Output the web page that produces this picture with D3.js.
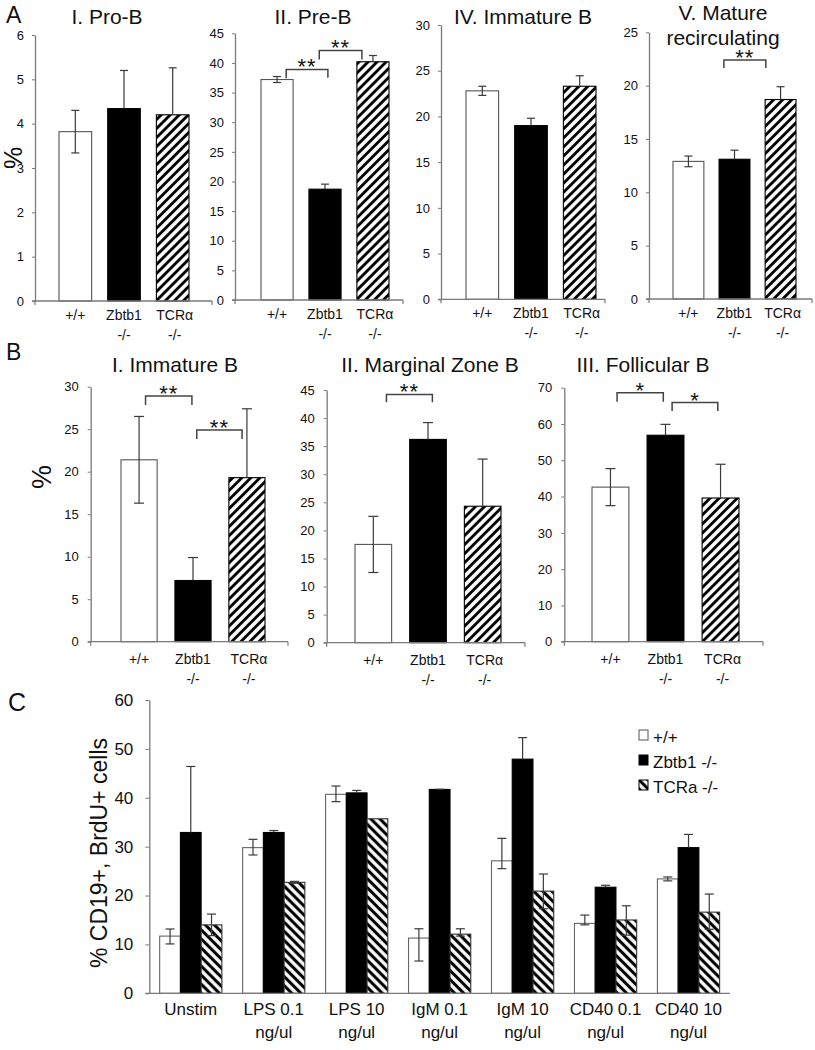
<!DOCTYPE html>
<html><head><meta charset="utf-8">
<script src="https://cdn.jsdelivr.net/npm/d3@7"></script>
<style>
body{margin:0;background:#fff}
svg{display:block}
text{font-family:"Liberation Sans",Arial,sans-serif;fill:#111}
</style>
</head><body>
<svg id="chart" width="815" height="1050"></svg>
<script>
// ---------------- DATA ----------------
const genotypes = ["+/+", "Zbtb1 -/-", "TCRα -/-"];
const genotypeLines = [["+/+"], ["Zbtb1", "-/-"], ["TCRα", "-/-"]];

// Panel A (bone marrow)
const aTitles = [["I. Pro-B"], ["II. Pre-B"], ["IV. Immature B"], ["V. Mature", "recirculating"]];
const aProB = [3.82, 4.34, 4.20];
const aProBErr = [0.48, 0.86, 1.06];
const aPreB = [37.2, 18.7, 40.2];
const aPreBErr = [0.5, 0.85, 1.05];
const aImmB = [22.8, 19.0, 23.3];
const aImmBErr = [0.5, 0.8, 1.15];
const aMatB = [12.9, 13.1, 18.7];
const aMatBErr = [0.5, 0.85, 1.2];
const aYMax = [6, 45, 30, 25];
const aTickStep = [1, 5, 5, 5];
// brackets: [fromIndex, toIndex, level, leftLegEnd, rightLegEnd, label]
const aPreBBrackets = [[0.19, 1.06, 38.9, 37.4, 37.5, "**"], [0.88, 1.77, 42.1, 40.6, 40.6, "**"]];
const aMatBBrackets = [[0.77, 1.68, 22.4, 21.65, 21.65, "**"]];

// Panel B (spleen)
const bTitles = ["I. Immature B", "II. Marginal Zone B", "III. Follicular B"];
const bImmB = [21.4, 7.2, 19.3];
const bImmBErr = [5.1, 2.7, 8.1];
const bMZB = [17.5, 36.2, 24.3];
const bMZBErr = [5.0, 3.0, 8.4];
const bFolB = [42.6, 56.9, 39.6];
const bFolBErr = [5.1, 3.0, 9.3];
const bYMax = [30, 45, 70];
const bTickStep = [5, 5, 10];
const bImmBBrackets = [[0.12, 0.98, 28.9, 27.85, 27.85, "**"], [1.07, 1.91, 24.9, 23.85, 23.85, "**"]];
const bMZBBrackets = [[0.24, 1.08, 44.2, 42.8, 42.8, "**"]];
const bFolBBrackets = [[0.12, 0.96, 68.6, 66.1, 66.1, "*"], [1.12, 1.95, 65.9, 63.6, 63.6, "*"]];

// Panel C (BrdU)
const cGroups = ["Unstim", "LPS 0.1 ng/ul", "LPS 10 ng/ul", "IgM 0.1 ng/ul", "IgM 10 ng/ul", "CD40 0.1 ng/ul", "CD40 10 ng/ul"];
const cGroupLines = [["Unstim"], ["LPS 0.1", "ng/ul"], ["LPS 10", "ng/ul"], ["IgM 0.1", "ng/ul"], ["IgM 10", "ng/ul"], ["CD40 0.1", "ng/ul"], ["CD40 10", "ng/ul"]];
const cSeries = ["+/+", "Zbtb1 -/-", "TCRa -/-"];
const cWT = [11.7, 29.8, 40.7, 11.3, 27.1, 14.3, 23.4];
const cWTErrUp = [1.45, 1.7, 1.7, 1.9, 4.6, 1.7, 0.4];
const cWTErrDn = [1.6, 1.5, 1.5, 4.7, 1.6, 0.3, 0.4];
const cKO = [32.9, 32.9, 41.0, 41.7, 47.9, 21.7, 29.8];
const cKOErrUp = [13.5, 0.4, 0.5, 0.05, 4.4, 0.4, 2.7];
const cTCR = [14.0, 22.7, 35.7, 12.1, 20.9, 15.0, 16.6];
const cTCRErrUp = [2.2, 0.2, 0.0, 1.1, 3.5, 2.9, 3.7];
const cTCRErrDn = [2.2, 0.2, 0.0, 0.4, 3.6, 3.1, 3.5];
const cYMax = 60;
const cTickStep = 10;

// ---------------- LAYOUT / STYLE ----------------
const FONT = '"Liberation Sans", Arial, sans-serif';
const AXIS = "#7a7a7a";
const ERR = "#3a3a3a";
const svg = d3.select("#chart");

const defs = svg.append("defs");
function hatch(id, angle, period, sw) {
  const p = defs.append("pattern").attr("id", id).attr("patternUnits", "userSpaceOnUse")
    .attr("width", period).attr("height", period).attr("patternTransform", `rotate(${angle})`);
  p.append("rect").attr("width", period).attr("height", period).attr("fill", "#fff");
  p.append("line").attr("x1", period / 2).attr("x2", period / 2).attr("y1", 0).attr("y2", period)
    .attr("stroke", "#000").attr("stroke-width", sw);
}
hatch("hatchAB", 45, 6.4, 2.9);
hatch("hatchC", -45, 6.4, 3.1);

const fillsAB = ["#fff", "#000", "url(#hatchAB)"];
const strokes = ["#555", "#000", "#000"];

const layoutA = [
  {axisX: 35, axisEnd: 212, y0: 301, yTop: 35, bars: [59, 189], titleX: 107},
  {axisX: 235, axisEnd: 403, y0: 300, yTop: 33.3, bars: [261, 389], titleX: 313},
  {axisX: 441, axisEnd: 605, y0: 299.3, yTop: 25, bars: [466, 596], titleX: 523},
  {axisX: 649, axisEnd: 812, y0: 299, yTop: 32.3, bars: [673, 796], titleX: 723}
];
const layoutB = [
  {axisX: 90.7, axisEnd: 288, y0: 641.7, yTop: 386.7, bars: [121, 265], titleX: 175},
  {axisX: 326.7, axisEnd: 525, y0: 642.7, yTop: 390, bars: [355, 501], titleX: 430},
  {axisX: 564.3, axisEnd: 763, y0: 641.7, yTop: 387.7, bars: [592, 739], titleX: 643}
];

function errBar(x, yScale, v, up, dn, cap) {
  const top = yScale(v + up), bot = yScale(v - dn);
  if (top === bot) return;
  svg.append("line").attr("x1", x).attr("x2", x).attr("y1", top).attr("y2", bot)
    .attr("stroke", ERR).attr("stroke-width", 1.2);
  svg.append("line").attr("x1", x - cap / 2).attr("x2", x + cap / 2).attr("y1", top).attr("y2", top)
    .attr("stroke", ERR).attr("stroke-width", 1.2);
  if (dn > 0) svg.append("line").attr("x1", x - cap / 2).attr("x2", x + cap / 2).attr("y1", bot).attr("y2", bot)
    .attr("stroke", ERR).attr("stroke-width", 1.2);
}

function subplot(o) {
  const L = o.layout;
  const y = d3.scaleLinear().domain([0, o.yMax]).range([L.y0, L.yTop]);
  const x = d3.scaleBand().domain(genotypes).range(L.bars).paddingInner(0.33).paddingOuter(0);
  const cx = i => x(genotypes[0]) + x.bandwidth() / 2 + i * x.step();

  // bars
  svg.append("g").selectAll("rect").data(o.values).join("rect")
    .attr("x", (d, i) => x(genotypes[i])).attr("width", x.bandwidth())
    .attr("y", d => y(d)).attr("height", d => y(0) - y(d))
    .attr("fill", (d, i) => fillsAB[i]).attr("stroke", (d, i) => strokes[i]).attr("stroke-width", 1.1);

  // error bars: white symmetric, others plus only
  o.values.forEach((v, i) => errBar(cx(i), y, v, o.err[i], i === 0 ? o.err[i] : 0, o.cap));

  // y axis
  const ax = svg.append("g").attr("transform", `translate(${L.axisX},0)`)
    .call(d3.axisLeft(y).tickValues(d3.range(0, o.yMax + o.step / 2, o.step))
      .tickSize(3).tickSizeOuter(0).tickPadding(o.tickPad).tickFormat(d3.format("d")));
  ax.attr("font-family", FONT).attr("font-size", 13);
  ax.select(".domain").attr("stroke", AXIS).attr("stroke-width", 1.3);
  ax.selectAll(".tick line").attr("stroke", AXIS);
  ax.selectAll(".tick text").attr("fill", "#222");

  // x axis
  svg.append("line").attr("x1", L.axisX - 3).attr("x2", L.axisEnd).attr("y1", L.y0).attr("y2", L.y0)
    .attr("stroke", AXIS).attr("stroke-width", 1.3);
  [L.axisX, L.axisEnd].forEach(px => svg.append("line").attr("x1", px).attr("x2", px)
    .attr("y1", L.y0).attr("y2", L.y0 + 4).attr("stroke", AXIS).attr("stroke-width", 1.2));

  // x labels
  genotypeLines.forEach((lines, i) => lines.forEach((t, k) => svg.append("text")
    .attr("x", cx(i) + (i === 2 ? 2 : 0)).attr("y", L.y0 + o.lab1 + k * 20)
    .attr("text-anchor", "middle").attr("font-size", 14).attr("fill", "#222").text(t)));

  // title
  o.title.forEach((t, k) => svg.append("text").attr("x", L.titleX).attr("y", o.titleY + k * 25)
    .attr("text-anchor", "middle").attr("font-size", 21).text(t));

  // significance brackets
  (o.brackets || []).forEach(b => {
    const [f, t, lev, l1, l2, lab] = b;
    const x1 = cx(f), x2 = cx(t);
    svg.append("path").attr("d", `M${x1},${y(l1)}V${y(lev)}H${x2}V${y(l2)}`)
      .attr("fill", "none").attr("stroke", "#444").attr("stroke-width", 1.5);
    svg.append("text").attr("x", (x1 + x2) / 2).attr("y", y(lev) + 5)
      .attr("text-anchor", "middle").attr("font-size", 22).attr("letter-spacing", 1).attr("fill", "#222").text(lab);
  });
}

// Panel A
const aVals = [aProB, aPreB, aImmB, aMatB];
const aErrs = [aProBErr, aPreBErr, aImmBErr, aMatBErr];
const aBr = [[], aPreBBrackets, [], aMatBBrackets];
aVals.forEach((v, i) => subplot({
  layout: layoutA[i], values: v, err: aErrs[i], yMax: aYMax[i], step: aTickStep[i],
  title: aTitles[i], titleY: i === 3 ? 20 : 24, brackets: aBr[i], cap: 8, tickPad: 8, lab1: 19
}));

// Panel B
const bVals = [bImmB, bMZB, bFolB];
const bErrs = [bImmBErr, bMZBErr, bFolBErr];
const bBr = [bImmBBrackets, bMZBBrackets, bFolBBrackets];
bVals.forEach((v, i) => subplot({
  layout: layoutB[i], values: v, err: bErrs[i], yMax: bYMax[i], step: bTickStep[i],
  title: [bTitles[i]], titleY: 372, brackets: bBr[i], cap: 10, tickPad: 9, lab1: 22
}));

// panel letters and y labels
svg.append("text").attr("x", 6).attr("y", 23).attr("font-size", 23).text("A");
svg.append("text").attr("x", 6).attr("y", 360).attr("font-size", 23).text("B");
svg.append("text").attr("x", 8).attr("y", 711).attr("font-size", 25).text("C");
svg.append("text").attr("transform", "translate(22,158) rotate(-90)").attr("text-anchor", "middle")
  .attr("font-size", 25).text("%");
svg.append("text").attr("transform", "translate(51,477) rotate(-90)").attr("text-anchor", "middle")
  .attr("font-size", 27).text("%");

// Panel C
(function () {
  const axisX = 149.3, y0 = 993.3, yTop = 700, axisEnd = 730;
  const y = d3.scaleLinear().domain([0, cYMax]).range([y0, yTop]);
  const x = d3.scaleBand().domain(cGroups).range([axisX, axisEnd]).paddingInner(0.25).paddingOuter(0.125);
  const xs = d3.scaleBand().domain(cSeries).range([0, x.bandwidth()]);
  const series = [
    {vals: cWT, up: cWTErrUp, dn: cWTErrDn, fill: "#fff", stroke: "#666"},
    {vals: cKO, up: cKOErrUp, dn: cKO.map(() => 0), fill: "#000", stroke: "#000"},
    {vals: cTCR, up: cTCRErrUp, dn: cTCRErrDn, fill: "url(#hatchC)", stroke: "#333"}
  ];
  series.forEach((s, si) => {
    svg.append("g").selectAll("rect").data(s.vals).join("rect")
      .attr("x", (d, i) => x(cGroups[i]) + xs(cSeries[si])).attr("width", xs.bandwidth())
      .attr("y", d => y(d)).attr("height", d => y(0) - y(d))
      .attr("fill", s.fill).attr("stroke", s.stroke).attr("stroke-width", 1.1);
  });
  series.forEach((s, si) => s.vals.forEach((v, i) =>
    errBar(x(cGroups[i]) + xs(cSeries[si]) + xs.bandwidth() / 2, y, v, s.up[i], s.dn[i], 9)));

  const ax = svg.append("g").attr("transform", `translate(${axisX},0)`)
    .call(d3.axisLeft(y).tickValues(d3.range(0, cYMax + 1, cTickStep)).tickSize(4).tickSizeOuter(0).tickPadding(12));
  ax.attr("font-family", FONT).attr("font-size", 17);
  ax.select(".domain").attr("stroke", AXIS).attr("stroke-width", 1.3);
  ax.selectAll(".tick line").attr("stroke", AXIS);
  ax.selectAll(".tick text").attr("fill", "#222");
  svg.append("line").attr("x1", axisX - 4).attr("x2", axisEnd).attr("y1", y0).attr("y2", y0)
    .attr("stroke", AXIS).attr("stroke-width", 1.3);

  cGroupLines.forEach((lines, i) => lines.forEach((t, k) => svg.append("text")
    .attr("x", x(cGroups[i]) + x.bandwidth() / 2).attr("y", 1015 + k * 23)
    .attr("text-anchor", "middle").attr("font-size", 17).attr("fill", "#222").text(t)));

  svg.append("text").attr("transform", "translate(107,853) rotate(-90)").attr("text-anchor", "middle")
    .attr("font-size", 23).text("% CD19+, BrdU+ cells");

  // legend
  const lg = svg.append("g").attr("transform", "translate(639,730)");
  series.forEach((s, si) => {
    lg.append("rect").attr("x", 0).attr("y", si * 25).attr("width", 9).attr("height", 10)
      .attr("fill", s.fill).attr("stroke", si === 0 ? "#555" : "#000").attr("stroke-width", 1);
    lg.append("text").attr("x", 14).attr("y", si * 25 + 13).attr("font-size", 17).attr("fill", "#111").text(cSeries[si]);
  });
})();
</script>
</body></html>
